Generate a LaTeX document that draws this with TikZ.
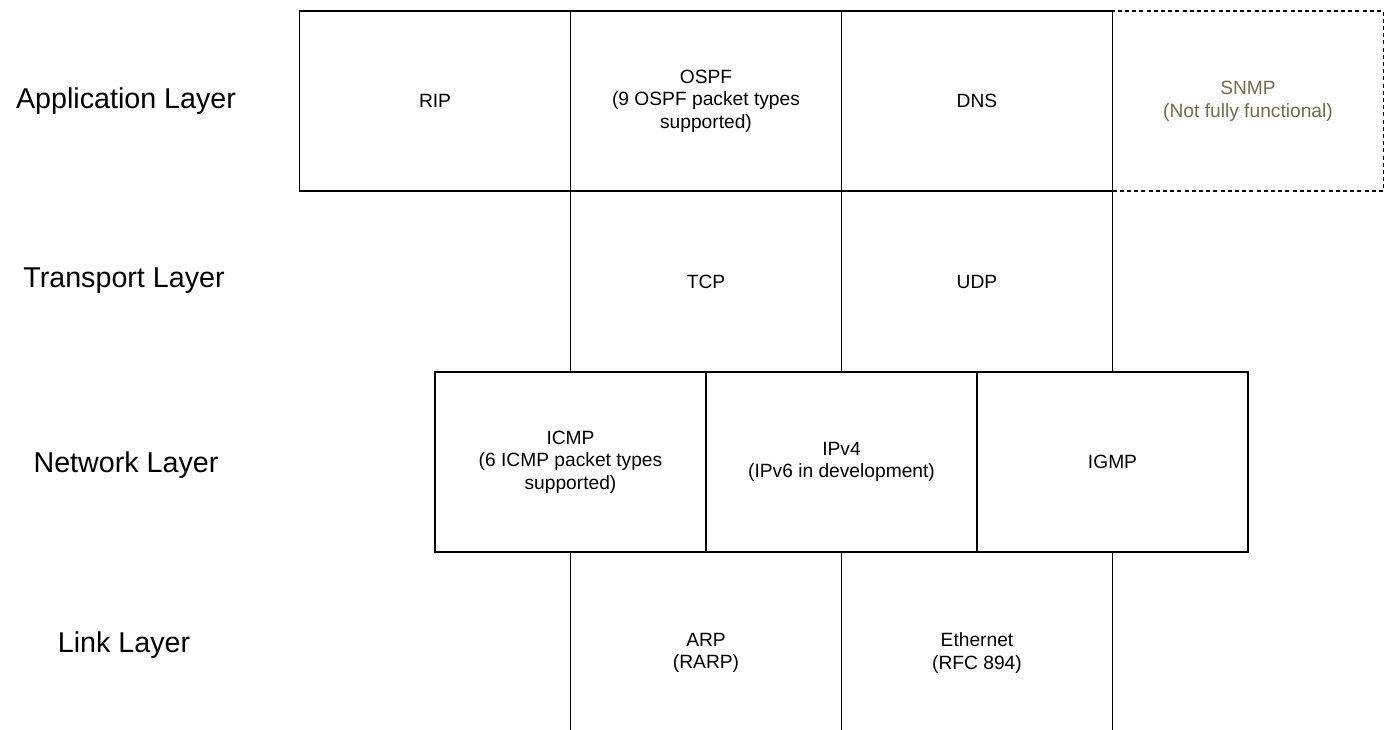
\documentclass[tikz,border=0pt]{standalone}
\usepackage{fontspec}
\setmainfont{Liberation Sans}
\definecolor{olivegray}{HTML}{6E6E50}
\begin{document}
\begin{tikzpicture}[x=0.75pt,y=-0.75pt,
  cell/.style={draw=black, line width=1.3pt, rectangle, inner sep=0pt, align=center,
    minimum width=203.25pt, font=\fontsize{14.4}{17}\selectfont},
  approw/.style={cell, minimum height=135pt},
  transrow/.style={cell, minimum height=135.75pt},
  netrow/.style={cell, minimum height=135pt},
  linkrow/.style={cell, minimum height=151.5pt},
  partial/.style={dash pattern=on 3pt off 2.4pt, text=olivegray},
  layerlabel/.style={font=\fontsize{21.5}{26}\selectfont, inner sep=0pt}
]
\useasboundingbox (0,0) rectangle (1388,729);
\clip (0,0) rectangle (1388,729);

% Layer labels
\node[layerlabel] (lapp)  at (126,101) {Application Layer};
\node[layerlabel] (ltra)  at (124,281) {Transport Layer};
\node[layerlabel] (lnet)  at (126,465) {Network Layer};
\node[layerlabel] (llink) at (124,645) {Link Layer};

% Link layer (open at the bottom, clipped)
\node[linkrow] (arp) at (706,653) {ARP\\(RARP)};
\node[linkrow] (eth) at (977,653) {Ethernet\\(RFC 894)};

% Transport layer
\node[transrow] (tcp) at (706,281.5) {TCP};
\node[transrow] (udp) at (977,281.5) {UDP};

% Network layer
\node[netrow, fill=white] (icmp) at (570.5,462) {ICMP\\(6 ICMP packet types\\supported)};
\node[netrow, fill=white] (ipv4) at (841.5,462) {IPv4\\(IPv6 in development)};
\node[netrow, fill=white] (igmp) at (1112.5,462) {IGMP};

% Application layer
\node[approw, partial] (snmp) at (1248,101) {SNMP\\(Not fully functional)};
\node[approw] (rip)  at (435,101) {RIP};
\node[approw] (ospf) at (706,101) {OSPF\\(9 OSPF packet types\\supported)};
\node[approw] (dns)  at (977,101) {DNS};
\end{tikzpicture}
\end{document}
